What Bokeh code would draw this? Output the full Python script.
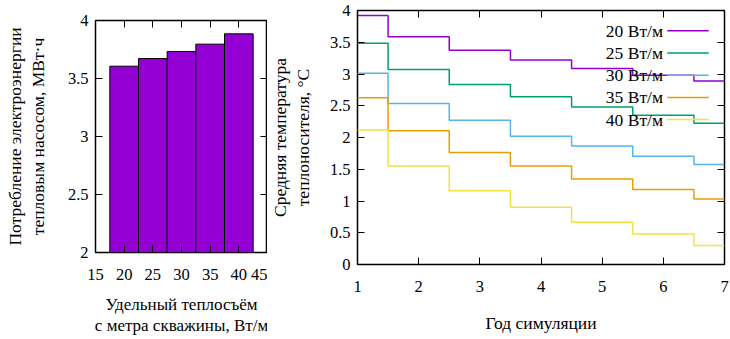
from bokeh.plotting import figure
from bokeh.models import Range1d, LinearAxis, FixedTicker, Label, Arrow, CustomJSTickFormatter
from bokeh.layouts import row
from bokeh.embed import file_html
from bokeh.resources import INLINE

FONT = "'Liberation Serif', serif"
TICK_SIZE = "16.5px"
LABEL_SIZE = "17.5px"

# ---- data: left chart (bars) ----
heat_rates = [20, 25, 30, 35, 40]
energy = [3.606, 3.672, 3.733, 3.796, 3.885]
left_xticks = [15, 20, 25, 30, 35, 40, 45]
left_yticks = [2, 2.5, 3, 3.5, 4]

# ---- data: right chart (steps) ----
years = [1, 2, 3, 4, 5, 6, 7]
series_labels = ["20 Вт/м", "25 Вт/м", "30 Вт/м", "35 Вт/м", "40 Вт/м"]
temp_20 = [3.92, 3.585, 3.375, 3.22, 3.087, 2.98, 2.89]
temp_25 = [3.485, 3.07, 2.835, 2.64, 2.48, 2.35, 2.225]
temp_30 = [3.01, 2.535, 2.27, 2.02, 1.865, 1.705, 1.575]
temp_35 = [2.625, 2.105, 1.765, 1.55, 1.345, 1.18, 1.03]
temp_40 = [2.12, 1.55, 1.16, 0.90, 0.665, 0.48, 0.30]
series = [temp_20, temp_25, temp_30, temp_35, temp_40]
colors = ["#9400D3", "#009E73", "#56B4E9", "#E69F00", "#F0E442"]
right_xticks = [1, 2, 3, 4, 5, 6, 7]
right_yticks = [0, 0.5, 1, 1.5, 2, 2.5, 3, 3.5, 4]

fmt_code = "return tick.toString();"


def style_axis(ax, ticks, standoff):
    ax.ticker = FixedTicker(ticks=ticks)
    ax.formatter = CustomJSTickFormatter(code=fmt_code)
    ax.axis_line_color = None
    ax.major_tick_in = 7
    ax.major_tick_out = 0
    ax.major_tick_line_color = "black"
    ax.major_tick_line_width = 1
    ax.minor_tick_line_color = None
    ax.major_label_text_font = FONT
    ax.major_label_text_font_size = TICK_SIZE
    ax.major_label_text_color = "black"
    ax.major_label_standoff = standoff
    ax.axis_label_text_font = FONT
    ax.axis_label_text_font_size = LABEL_SIZE
    ax.axis_label_text_font_style = "normal"
    ax.axis_label_text_color = "black"
    ax.axis_label_text_line_height = 1.14


def mirror_axis(p, ticks, side):
    ax = LinearAxis(ticker=FixedTicker(ticks=ticks))
    ax.axis_line_color = None
    ax.major_tick_in = 7
    ax.major_tick_out = 0
    ax.major_tick_line_color = "black"
    ax.minor_tick_line_color = None
    ax.major_label_text_font_size = "1px"
    ax.major_label_text_color = None
    ax.major_label_standoff = 0
    p.add_layout(ax, side)


def base_style(p):
    p.grid.visible = False
    p.outline_line_color = "black"
    p.outline_line_width = 1.5
    p.outline_line_alpha = 1
    p.background_fill_color = "white"
    p.border_fill_color = "white"
    p.frame_align = False


# ---- left figure ----
p1 = figure(width=267, height=339, x_range=Range1d(15, 45), y_range=Range1d(2, 4),
            output_backend="svg", toolbar_location=None,
            min_border_left=95, min_border_right=0, min_border_top=20, min_border_bottom=87)
base_style(p1)
p1.vbar(x=heat_rates, top=energy, bottom=0, width=5,
        fill_color=colors[0], line_color="black", line_width=1)
style_axis(p1.xaxis[0], left_xticks, 16)
style_axis(p1.yaxis[0], left_yticks, 7)
p1.xaxis[0].axis_label = "Удельный теплосъём\nс метра скважины, Вт/м"
p1.xaxis[0].axis_label_text_font_size = "17px"
p1.xaxis[0].axis_label_standoff = 12
p1.yaxis[0].axis_label = "Потребление электроэнергии\nтепловым насосом, МВт·ч"
p1.yaxis[0].axis_label_standoff = 17
mirror_axis(p1, left_xticks, "above")
mirror_axis(p1, left_yticks, "right")

# ---- right figure ----
p2 = figure(width=463, height=339, x_range=Range1d(1, 7), y_range=Range1d(0, 4),
            output_backend="svg", toolbar_location=None,
            min_border_left=90, min_border_right=6, min_border_top=10, min_border_bottom=75)
base_style(p2)
for vals, c in zip(series, colors):
    p2.step(years, vals, mode="center", line_color=c, line_width=1.5)
style_axis(p2.xaxis[0], right_xticks, 16)
style_axis(p2.yaxis[0], right_yticks, 7)
p2.xaxis[0].axis_label = "Год симуляции"
p2.xaxis[0].axis_label_standoff = 18
p2.yaxis[0].axis_label = "Средняя температура\nтеплоносителя, °C"
p2.yaxis[0].axis_label_standoff = 14
mirror_axis(p2, right_xticks, "above")
mirror_axis(p2, right_yticks, "right")

# manual key (text left, line sample right), in screen units of the frame
for i, (lab, c) in enumerate(zip(series_labels, colors)):
    yy = 233.7 - 22.2 * i
    p2.add_layout(Label(x=305.5, y=yy, x_units="screen", y_units="screen", text=lab,
                        text_align="right", text_baseline="middle",
                        text_font=FONT, text_font_size=LABEL_SIZE, text_color="black"))
    p2.add_layout(Arrow(x_start=309.7, y_start=yy, x_end=351.3, y_end=yy,
                        start_units="screen", end_units="screen",
                        start=None, end=None, line_color=c, line_width=1.5))

layout = row(p1, p2)
open("out.html", "w").write(file_html(layout, INLINE))
